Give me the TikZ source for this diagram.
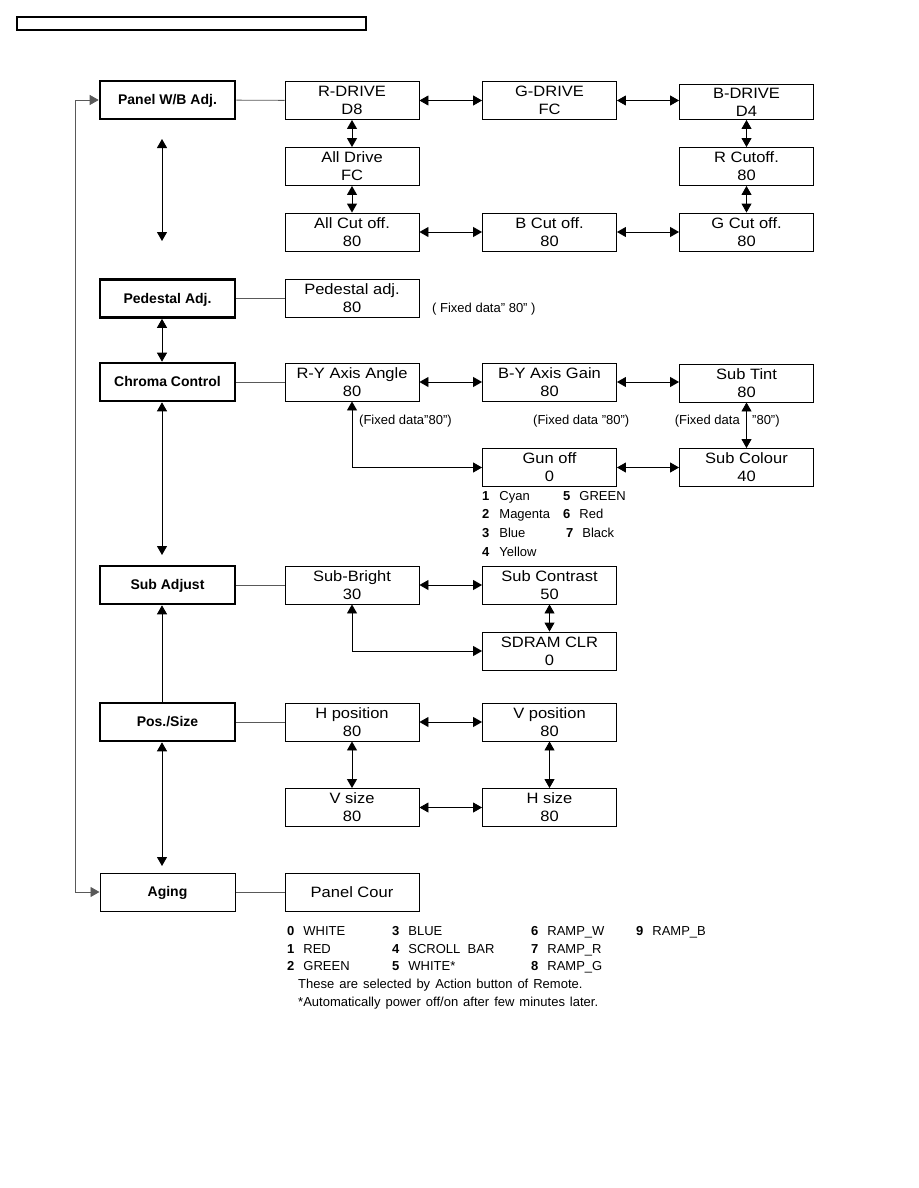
\documentclass[tikz,border=0pt]{standalone}
\usepackage{fontspec}
\setmainfont{Liberation Sans}
\newfontfamily\boxfont[FakeStretch=1.1]{Liberation Sans}
\usetikzlibrary{arrows.meta}

\newcommand\remarkfont{\fontsize{13}{15}\selectfont\spaceskip=5pt plus 1pt\relax}

\tikzset{
  menu/.style={draw,line width=2.6pt,minimum width=135pt,minimum height=38pt,inner sep=0pt,text height=10pt,text depth=1pt,font=\bfseries\fontsize{14}{16}\selectfont},
  item/.style={draw,line width=0.9pt,minimum width=134pt,minimum height=38pt,inner sep=0pt,align=center,font=\boxfont\fontsize{15}{18}\selectfont},
  link/.style={draw=black!65,line width=0.9pt},
  both/.style={line width=0.9pt,{Triangle[length=9pt,width=10pt]}-{Triangle[length=9pt,width=10pt]}},
  one/.style={line width=0.9pt,-{Triangle[length=9pt,width=10pt]}},
  note/.style={anchor=west,inner sep=0pt,text height=9pt,text depth=3pt,font=\fontsize{13}{15}\selectfont},
  remark/.style={note,font=\remarkfont},
}

\begin{document}
\begin{tikzpicture}[x=1pt,y=-1pt]
\useasboundingbox (0,0) rectangle (918,1188);
\draw[line width=1.4pt] (17,17) rectangle (366,30);

% main menu column
\node[menu] (panel) at (167.5,100) {Panel W/B Adj.};
\node[menu] (pedestal) at (167.5,298.5) {Pedestal Adj.};
\node[menu] (chroma) at (167.5,382) {Chroma Control};
\node[menu] (subadj) at (167.5,585) {Sub Adjust};
\node[menu] (possize) at (167.5,722) {Pos./Size};
\node[menu,line width=1pt] (aging) at (167.5,892) {Aging};

% panel W/B
\node[item] (rdrive) at (352,100.5) {R-DRIVE\\D8};
\node[item] (gdrive) at (549.5,100.5) {G-DRIVE\\FC};
\node[item,minimum height=35pt] (bdrive) at (746.5,102) {B-DRIVE\\D4};
\node[item] (alldrive) at (352,166.5) {All Drive\\FC};
\node[item] (rcutoff) at (746.5,166.5) {R Cutoff.\\80};
\node[item] (allcut) at (352,232) {All Cut off.\\80};
\node[item] (bcut) at (549.5,232) {B Cut off.\\80};
\node[item] (gcut) at (746.5,232) {G Cut off.\\80};

% pedestal
\node[item] (pedadj) at (352,298.5) {Pedestal adj.\\80};
\node[note] (pednote) at (432,309) {( Fixed data” 80” )};

% chroma
\node[item] (ry) at (352,382) {R-Y Axis Angle\\80};
\node[item] (by) at (549.5,382) {B-Y Axis Gain\\80};
\node[item] (subtint) at (746.5,383) {Sub Tint\\80};
\node[item] (gunoff) at (549.5,467.5) {Gun off\\0};
\node[item] (subcol) at (746.5,467.5) {Sub Colour\\40};
\node[note] (fix1) at (359,421) {(Fixed data”80”)};
\node[note] (fix2) at (533,421) {(Fixed data ”80”)};
\node[note,anchor=east] (fix3) at (740,421) {(Fixed data};
\node[note] (fix4) at (752,421) {”80”)};
\foreach \k/\n/\t/\yy in {1/1/Cyan/497,2/2/Magenta/515,3/3/Blue/534,4/4/Yellow/553}
  \node[note] (gnum\k) at (482,\yy) {\textbf{\n}\hspace{10pt}\t};
\foreach \k/\n/\t/\xx/\yy in {5/5/GREEN/563/497,6/6/Red/563/515,7/7/Black/566/534}
  \node[note] (gnum\k) at (\xx,\yy) {\textbf{\n}\hspace{9pt}\t};

% sub adjust
\node[item] (subbright) at (352,585) {Sub-Bright\\30};
\node[item] (subcontrast) at (549.5,585) {Sub Contrast\\50};
\node[item] (sdram) at (549.5,651) {SDRAM CLR\\0};

% pos./size
\node[item] (hpos) at (352,722) {H position\\80};
\node[item] (vpos) at (549.5,722) {V position\\80};
\node[item] (vsize) at (352,807.5) {V size\\80};
\node[item] (hsize) at (549.5,807.5) {H size\\80};

% aging
\node[item] (panelcour) at (352,892) {Panel Cour};
\foreach \k/\n/\t/\xx/\yy in {0/0/WHITE/287/932,1/1/RED/287/950,2/2/GREEN/287/967,
    3/3/BLUE/392/932,4/4/SCROLL\ \ BAR/392/950,5/5/WHITE*/392/967,
    6/6/RAMP\_W/531/932,7/7/RAMP\_R/531/950,8/8/RAMP\_G/531/967,9/9/RAMP\_B/636/932}
  \node[note] (anum\k) at (\xx,\yy) {\textbf{\n}\hspace{9pt}\t};
\node[remark] (remark1) at (298,985) {These are selected by Action button of Remote.};
\node[remark] (remark2) at (298,1003) {*Automatically power off/on after few minutes later.};

% lines from menu to items
\draw[link] (panel) -- (rdrive);
\draw[link] (pedestal) -- (pedadj);
\draw[link] (chroma) -- (ry);
\draw[link] (subadj) -- (subbright);
\draw[link] (possize) -- (hpos);
\draw[link] (aging) -- (panelcour);

% loop on the left
\coordinate (looptop) at (75,100);
\coordinate (loopbot) at (75,892);
\draw[link,{Triangle[length=9pt,width=10pt]}-{Triangle[length=9pt,width=10pt]}] (panel.west) -- (looptop) -- (loopbot) -- (aging.west);

% arrows of menu column
\coordinate (pw1) at (162,139);
\coordinate (pw2) at (162,241);
\coordinate (cc1) at (162,555);
\coordinate (ps1) at (162,866);
\draw[both] (pw1) -- (pw2);
\draw[both] ([xshift=-5.5pt]pedestal.south) -- ([xshift=-5.5pt]chroma.north);
\draw[both] ([xshift=-5.5pt]chroma.south) -- (cc1);
\draw[one] ([xshift=-5.5pt]possize.north) -- ([xshift=-5.5pt]subadj.south);
\draw[both] ([xshift=-5.5pt]possize.south) -- (ps1);

% arrows between items
\draw[both] (rdrive) -- (gdrive);
\draw[both] (gdrive.east) -- (bdrive.west |- gdrive.east);
\draw[both] (rdrive) -- (alldrive);
\draw[both] (alldrive) -- (allcut);
\draw[both] (allcut) -- (bcut);
\draw[both] (bcut) -- (gcut);
\draw[both] (bdrive) -- (rcutoff);
\draw[both] (rcutoff) -- (gcut);
\draw[both] (ry) -- (by);
\draw[both] (by.east) -- (subtint.west |- by.east);
\draw[both] (subtint) -- (subcol);
\draw[both] (gunoff) -- (subcol);
\draw[both] (ry.south) |- (gunoff.west);
\draw[both] (subbright) -- (subcontrast);
\draw[both] (subcontrast) -- (sdram);
\draw[both] (subbright.south) |- (sdram.west);
\draw[both] (hpos) -- (vpos);
\draw[both] (hpos) -- (vsize);
\draw[both] (vpos) -- (hsize);
\draw[both] (vsize) -- (hsize);
\end{tikzpicture}
\end{document}
